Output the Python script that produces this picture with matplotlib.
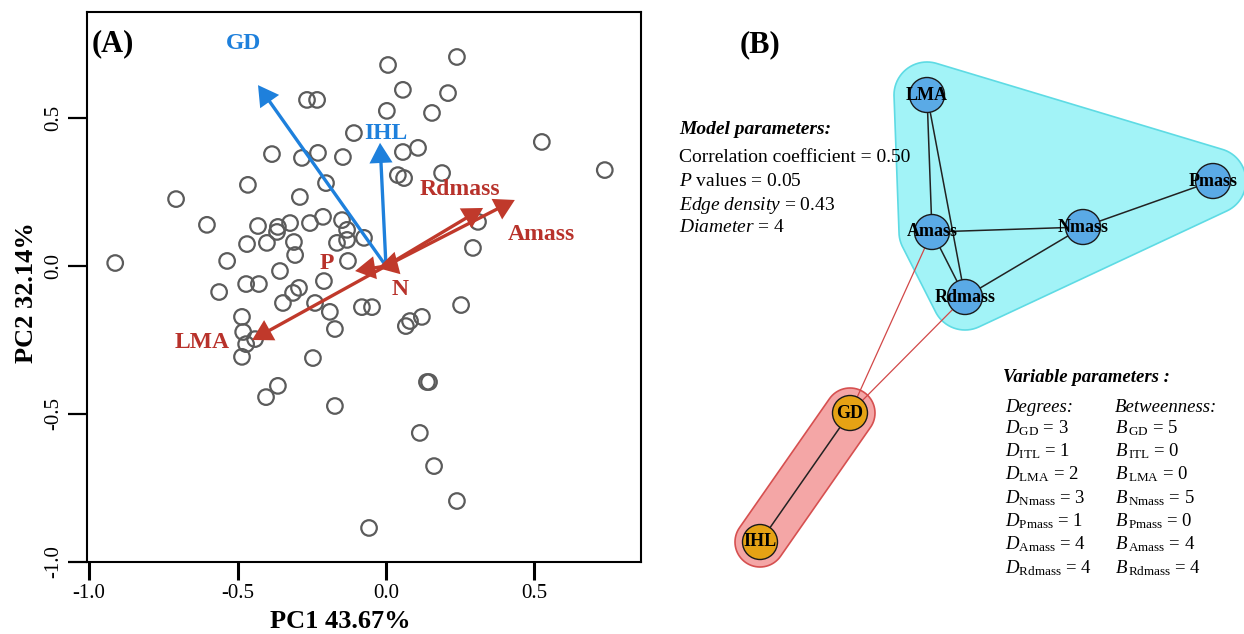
import matplotlib
matplotlib.use("Agg")
import matplotlib.pyplot as plt
from matplotlib.patches import Polygon, Circle
import numpy as np

plt.rcParams['font.family'] = ['Liberation Serif', 'DejaVu Serif']
plt.rcParams['mathtext.fontset'] = 'custom'
plt.rcParams['mathtext.rm'] = 'Liberation Serif'
plt.rcParams['mathtext.it'] = 'Liberation Serif:italic'
plt.rcParams['mathtext.bf'] = 'Liberation Serif:bold'
plt.rcParams['axes.unicode_minus'] = False

# ---- (A) PCA scores ----
pc1 = [0.007, -0.266, -0.232, 0.003, -0.108, -0.384, -0.283, -0.229, -0.145, -0.465,
       -0.290, -0.202, -0.707, -0.603, -0.431, -0.364, -0.367, -0.323, -0.256, -0.212,
       -0.148, -0.131, -0.074, -0.468, -0.401, -0.310, -0.306, -0.165, -0.131, -0.535,
       -0.357, -0.128, -0.912, -0.562, -0.471, -0.428, -0.313, -0.293, -0.209, -0.347,
       -0.239, -0.189, -0.081, -0.047, -0.485, -0.481, -0.471, -0.441, -0.485, -0.172,
       -0.246, 0.067, 0.081, 0.121, 0.138, 0.145, -0.364, -0.404, -0.172, -0.057,
       0.253, 0.114, 0.162, 0.239, 0.239, 0.057, 0.209, 0.155, 0.057, 0.108,
       0.040, 0.061, 0.189, 0.310, 0.293, 0.525, 0.737]
pc2 = [0.679, 0.561, 0.561, 0.524, 0.449, 0.378, 0.365, 0.382, 0.368, 0.274,
       0.233, 0.280, 0.226, 0.139, 0.135, 0.132, 0.115, 0.145, 0.145, 0.166,
       0.155, 0.122, 0.095, 0.074, 0.078, 0.081, 0.037, 0.078, 0.088, 0.017,
       -0.017, 0.017, 0.010, -0.088, -0.061, -0.061, -0.091, -0.074, -0.051, -0.125,
       -0.125, -0.155, -0.139, -0.139, -0.172, -0.223, -0.264, -0.247, -0.307, -0.213,
       -0.311, -0.203, -0.186, -0.172, -0.392, -0.392, -0.405, -0.443, -0.473, -0.885,
       -0.132, -0.564, -0.676, -0.794, 0.706, 0.595, 0.584, 0.517, 0.385, 0.399,
       0.307, 0.297, 0.314, 0.149, 0.061, 0.419, 0.324]

# loadings (arrow tips)
var_names = ['GD', 'IHL', 'Amass', 'Rdmass', 'LMA', 'P', 'N']
var_x = [-0.431, -0.020, 0.434, 0.327, -0.451, -0.104, -0.027]
var_y = [0.611, 0.416, 0.223, 0.196, -0.250, -0.017, -0.007]
var_group = ['b', 'b', 'r', 'r', 'r', 'r', 'r']
label_pos = {'GD': (-0.481, 0.753), 'IHL': (0.0, 0.449), 'Amass': (0.522, 0.105),
             'Rdmass': (0.249, 0.257), 'LMA': (-0.62, -0.26), 'P': (-0.199, 0.010),
             'N': (0.047, -0.081)}

# ---- (B) network ----
node_names = ['LMA', 'Pmass', 'Nmass', 'Amass', 'Rdmass', 'GD', 'IHL']
node_x = [927, 1213, 1083, 932, 965, 850, 760]
node_y = [95, 181, 227, 232, 297, 413, 542]
node_group = [1, 1, 1, 1, 1, 2, 2]
edges_in = [('LMA', 'Amass'), ('LMA', 'Rdmass'), ('Amass', 'Nmass'), ('Amass', 'Rdmass'),
            ('Rdmass', 'Nmass'), ('Nmass', 'Pmass'), ('GD', 'IHL')]
edges_between = [('GD', 'Amass'), ('GD', 'Rdmass')]

deg_names = ['GD', 'ITL', 'LMA', 'Nmass', 'Pmass', 'Amass', 'Rdmass']
degrees = [3, 1, 2, 3, 1, 4, 4]
betweenness = [5, 0, 0, 5, 0, 4, 4]

W, H = 1244, 634
fig = plt.figure(figsize=(W / 100, H / 100), dpi=100)

ax = fig.add_axes([87 / W, 1 - 562 / H, (641 - 87) / W, (562 - 12) / H])
ax.set_xlim(-1.007, 0.859)
ax.set_ylim(-1.0, 0.858)

ax.scatter(pc1, pc2, s=125, facecolors='none', edgecolors='#5b5b5b', linewidths=1.6, zorder=2)

blue = '#1e80dc'
red = '#c0392b'
hl, hw = 0.068, 0.078
for name, x, y, g in zip(var_names, var_x, var_y, var_group):
    c = blue if g == 'b' else red
    L = np.hypot(x, y)
    ux, uy = x / L, y / L
    ax.plot([0, x - 0.5 * hl * ux], [0, y - 0.5 * hl * uy], color=c, lw=2.4,
            solid_capstyle='butt', zorder=3)
    ax.arrow(x - hl * ux, y - hl * uy, hl * ux, hl * uy, width=0, head_width=hw,
             head_length=hl, length_includes_head=True, color=c, lw=0, zorder=4)
    lx, ly = label_pos[name]
    ax.text(lx, ly, name, color=c if g == 'b' else '#b8322b', fontsize=17,
            fontweight='bold', ha='center', va='center', zorder=5)

ax.text(0.008, 0.968, '(A)', transform=ax.transAxes, fontsize=22, fontweight='bold',
        ha='left', va='top')

ax.set_xticks([-1.0, -0.5, 0.0, 0.5])
ax.set_yticks([-1.0, -0.5, 0.0, 0.5])
ax.set_xticklabels(['-1.0', '-0.5', '0.0', '0.5'])
ax.set_yticklabels(['-1.0', '-0.5', '0.0', '0.5'])
ax.tick_params(axis='x', direction='out', length=13, width=2.2, labelsize=15, pad=3)
ax.tick_params(axis='y', direction='out', length=14, width=1.6, labelsize=15, pad=3)
for lbl in ax.get_yticklabels():
    lbl.set_rotation(90)
    lbl.set_va('center')
for sp in ax.spines.values():
    sp.set_linewidth(1.5)
ax.set_xlabel('PC1 43.67%', fontsize=19, fontweight='bold')
ax.set_ylabel('PC2 32.14%', fontsize=19, fontweight='bold')
ax.xaxis.set_label_coords((340 - 87) / 554, -0.088)
ax.yaxis.set_label_coords(-0.088, 0.49)


def padded_hull(xs, ys, pad):
    t = np.linspace(0, 2 * np.pi, 72, endpoint=False)
    pts = []
    for x, y in zip(xs, ys):
        for a in t:
            pts.append((x + pad * np.cos(a), y + pad * np.sin(a)))
    pts = sorted(set(pts))

    def cross(o, a, b):
        return (a[0] - o[0]) * (b[1] - o[1]) - (a[1] - o[1]) * (b[0] - o[0])
    lower, upper = [], []
    for p in pts:
        while len(lower) >= 2 and cross(lower[-2], lower[-1], p) <= 0:
            lower.pop()
        lower.append(p)
    for p in reversed(pts):
        while len(upper) >= 2 and cross(upper[-2], upper[-1], p) <= 0:
            upper.pop()
        upper.append(p)
    return np.array(lower[:-1] + upper[:-1])


ax2 = fig.add_axes([660 / W, 0, (W - 660) / W, 1])
ax2.set_xlim(660, W)
ax2.set_ylim(H, 0)
ax2.axis('off')

pos = {n: (x, y) for n, x, y in zip(node_names, node_x, node_y)}
g1 = [i for i, g in enumerate(node_group) if g == 1]
g2 = [i for i, g in enumerate(node_group) if g == 2]
hull1 = padded_hull([node_x[i] for i in g1], [node_y[i] for i in g1], 33)
hull2 = padded_hull([node_x[i] for i in g2], [node_y[i] for i in g2], 25)
ax2.add_patch(Polygon(hull1, closed=True, fc='#a2f3f7', ec='#5edbe4', lw=1.2, zorder=1))
ax2.add_patch(Polygon(hull2, closed=True, fc='#f4a6a6', ec='#d65050', lw=1.2, zorder=1))

for a, b in edges_in:
    ax2.plot([pos[a][0], pos[b][0]], [pos[a][1], pos[b][1]], color='#222222', lw=1.1, zorder=2)
for a, b in edges_between:
    ax2.plot([pos[a][0], pos[b][0]], [pos[a][1], pos[b][1]], color='#d24848', lw=0.9, zorder=2)

for n, x, y, g in zip(node_names, node_x, node_y, node_group):
    fc = '#5aaae6' if g == 1 else '#e6a214'
    ax2.add_patch(Circle((x, y), 17.5, fc=fc, ec='#1a1a1a', lw=1.0, zorder=3))
    ax2.text(x, y, n, fontsize=13, fontweight='bold', ha='center', va='center', zorder=4)

ax2.text(760, 45, '(B)', fontsize=22, fontweight='bold', ha='center', va='center')

fs = 14
ax2.text(679, 130, 'Model parameters:', fontsize=fs, fontweight='bold', fontstyle='italic',
         va='center')
ax2.text(679, 158, 'Correlation coefficient = 0.50', fontsize=fs, va='center')
ax2.text(679, 182, r'$\mathit{P}$ values = 0.05', fontsize=fs, va='center')
ax2.text(679, 205, r'$\mathit{Edge\ density}$ = 0.43', fontsize=fs, va='center')
ax2.text(679, 228, r'$\mathit{Diameter}$ = 4', fontsize=fs, va='center')

fs2 = 13.5
ax2.text(1003, 378, 'Variable parameters :', fontsize=fs2, fontweight='bold',
         fontstyle='italic', va='center')
ax2.text(1005, 407, 'Degrees:', fontsize=fs2, fontstyle='italic', va='center')
ax2.text(1115, 407, 'Betweenness:', fontsize=fs2, fontstyle='italic', va='center')
for i, (n, d, b) in enumerate(zip(deg_names, degrees, betweenness)):
    yy = 428 + 23.3 * i
    ax2.text(1005, yy, r'$D_{\mathrm{%s}}$ = %d' % (n, d), fontsize=fs2, va='center')
    ax2.text(1115, yy, r'$B_{\,\mathrm{%s}}$ = %d' % (n, b), fontsize=fs2, va='center')

fig.savefig('out.png', dpi=100)
